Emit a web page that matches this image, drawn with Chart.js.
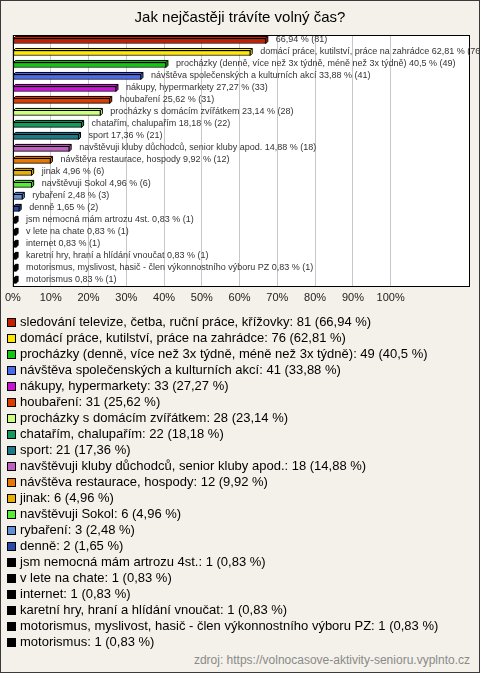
<!DOCTYPE html>
<html>
<head>
<meta charset="utf-8">
<script src="https://cdn.jsdelivr.net/npm/chart.js@4/dist/chart.umd.min.js"></script>
<style>
body { margin: 0; }
#box {
    position: relative; width: 480px; height: 673px; overflow: hidden;
    background: #f3f1e9; box-shadow: inset 0 0 0 1px #3a3a3a;
    font-family: "Liberation Sans", Arial, sans-serif;
}
#chart { position: absolute; left: 0; top: 0; }
#legend { position: absolute; left: 0; top: 314px; }
.item { height: 16px; line-height: 16px; font-size: 13px; color: #000; display: flex; align-items: center; white-space: nowrap; }
.item span.sq { width: 9px; height: 9px; box-sizing: border-box; border: 1px solid #000; margin: 0 4px 0 7px; }
#source { position: absolute; right: 10px; top: 653px; font-size: 12px; color: #8a8a8a; }
</style>
</head>
<body>
<div id="box">
    <canvas id="chart" width="480" height="316"></canvas>
    <div id="legend"></div>
    <div id="source">zdroj: https://volnocasove-aktivity-senioru.vyplnto.cz</div>
</div>
<script>
// data
var categories = [
    "sledování televize, četba, ruční práce, křížovky",
    "domácí práce, kutilství, práce na zahrádce",
    "procházky (denně, více než 3x týdně, méně než 3x týdně)",
    "návštěva společenských a kulturních akcí",
    "nákupy, hypermarkety",
    "houbaření",
    "procházky s domácím zvířátkem",
    "chatařím, chalupařím",
    "sport",
    "navštěvuji kluby důchodců, senior kluby apod.",
    "návštěva restaurace, hospody",
    "jinak",
    "navštěvuji Sokol",
    "rybaření",
    "denně",
    "jsm nemocná mám artrozu 4st.",
    "v lete na chate",
    "internet",
    "karetní hry, hraní a hlídání vnoučat",
    "motorismus, myslivost, hasič - člen výkonnostního výboru PZ",
    "motorismus"
];
var counts = [81, 76, 49, 41, 33, 31, 28, 22, 21, 18, 12, 6, 6, 3, 2, 1, 1, 1, 1, 1, 1];
var percents = [66.94, 62.81, 40.5, 33.88, 27.27, 25.62, 23.14, 18.18, 17.36, 14.88, 9.92, 4.96, 4.96, 2.48, 1.65, 0.83, 0.83, 0.83, 0.83, 0.83, 0.83];
var barColors = [
    "#c81e00", "#ffe800", "#0fc80f", "#4a6af0", "#cc10d8", "#e03c00", "#ccff80",
    "#119a5a", "#1a7a88", "#c060c0", "#e87800", "#e8b000", "#55ee33", "#6090d8",
    "#2a4aa8", "#000000", "#000000", "#000000", "#000000", "#000000", "#000000"
];
var tickValues = [0, 10, 20, 30, 40, 50, 60, 70, 80, 90, 100];

function pctText(v) {
    return String(v).replace(".", ",");
}

// popisky u sloupcu (prvni bez nazvu, jako v originale)
var barLabels = categories.map(function(c, i) {
    return (i === 0 ? "" : c + " ") + pctText(percents[i]) + " % (" + counts[i] + ")";
});

// 3D hloubka sloupcu + ramecek grafu
var depth = 2;
var barDecor = {
    id: "barDecor",
    beforeDraw: function(chart) {
        var a = chart.chartArea, ctx = chart.ctx;
        ctx.save();
        ctx.fillStyle = "#ffffff";
        ctx.fillRect(a.left, a.top, a.right - a.left, a.bottom - a.top);
        ctx.restore();
    },
    beforeDatasetsDraw: function(chart) {
        var a = chart.chartArea, ctx = chart.ctx;
        ctx.save();
        ctx.strokeStyle = "#000";
        ctx.lineWidth = 1;
        ctx.strokeRect(Math.round(a.left) + 0.5, Math.round(a.top) + 0.5,
            Math.round(a.right - a.left) - 1, Math.round(a.bottom - a.top) - 1);
        var meta = chart.getDatasetMeta(0);
        meta.data.forEach(function(el, i) {
            var p = el.getProps(["x", "y", "base", "height"], true);
            var top = p.y - p.height / 2, bottom = p.y + p.height / 2;
            ctx.fillStyle = barColors[i];
            ctx.beginPath();
            ctx.moveTo(p.base, top);
            ctx.lineTo(p.base + depth, top - depth);
            ctx.lineTo(p.x + depth, top - depth);
            ctx.lineTo(p.x + depth, bottom - depth);
            ctx.lineTo(p.x, bottom);
            ctx.lineTo(p.x, top);
            ctx.closePath();
            ctx.fill();
            ctx.stroke();
            ctx.beginPath();
            ctx.moveTo(p.x, top);
            ctx.lineTo(p.x + depth, top - depth);
            ctx.stroke();
        });
        ctx.restore();
    },
    afterDatasetsDraw: function(chart) {
        var ctx = chart.ctx;
        var meta = chart.getDatasetMeta(0);
        ctx.save();
        ctx.font = "9px 'Liberation Sans', Arial, sans-serif";
        ctx.fillStyle = "#333";
        ctx.textBaseline = "middle";
        meta.data.forEach(function(el, i) {
            var p = el.getProps(["x", "y"], true);
            ctx.fillText(barLabels[i], p.x + 10, p.y - 1);
        });
        ctx.restore();
    }
};

var myChart = new Chart(document.getElementById("chart"), {
    type: "bar",
    data: {
        labels: categories,
        datasets: [{
            data: percents,
            backgroundColor: barColors,
            borderColor: "#000",
            borderWidth: 1,
            borderSkipped: false,
            barThickness: 5
        }]
    },
    options: {
        indexAxis: "y",
        responsive: false,
        animation: false,
        layout: { padding: { left: 10, right: 10, top: 0, bottom: 6 } },
        scales: {
            x: {
                min: 0,
                max: 121,
                afterBuildTicks: function(axis) {
                    axis.ticks = tickValues.map(function(v) { return { value: v }; });
                },
                ticks: {
                    padding: 5,
                    color: "#222",
                    font: { family: "'Liberation Sans', Arial, sans-serif", size: 11 },
                    callback: function(v) { return v + "%"; }
                },
                grid: { color: "#c8c8c8", drawTicks: false },
                border: { display: false }
            },
            y: { display: false }
        },
        plugins: {
            legend: { display: false },
            tooltip: { enabled: false },
            title: {
                display: true,
                text: "Jak nejčastěji trávíte volný čas?",
                color: "#000",
                font: { family: "'Liberation Sans', Arial, sans-serif", size: 15, weight: "normal" },
                padding: { top: 9, bottom: 8 }
            }
        }
    },
    plugins: [barDecor]
});

// legenda
var legend = document.getElementById("legend");
categories.forEach(function(c, i) {
    var row = document.createElement("div");
    row.className = "item";
    var sq = document.createElement("span");
    sq.className = "sq";
    sq.style.background = barColors[i];
    var t = document.createElement("span");
    t.textContent = c + ": " + counts[i] + " (" + pctText(percents[i]) + " %)";
    row.appendChild(sq);
    row.appendChild(t);
    legend.appendChild(row);
});
</script>
</body>
</html>
